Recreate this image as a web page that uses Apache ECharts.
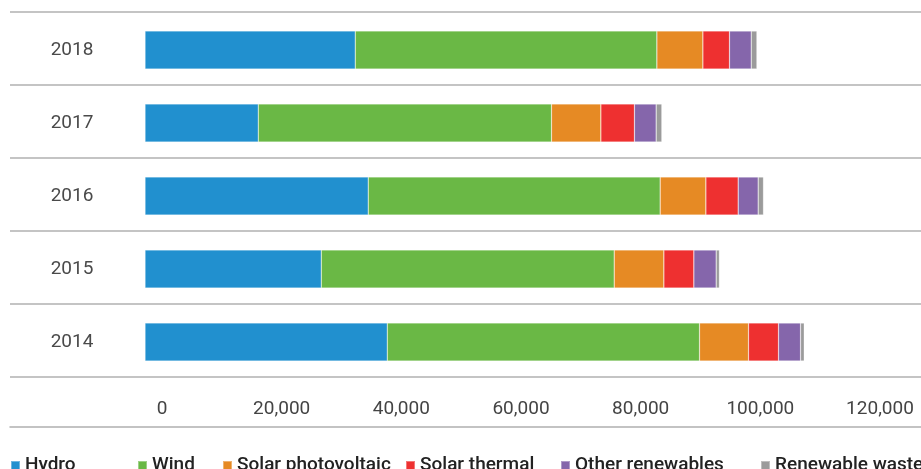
<!DOCTYPE html>
<html>
<head>
<meta charset="UTF-8">
<title>Renewables</title>
<script src="https://cdn.jsdelivr.net/npm/echarts@6/dist/echarts.min.js"></script>
<style>
  html, body { margin: 0; padding: 0; background: #fff; }
  #chart { width: 921px; height: 469px; }
</style>
</head>
<body>
<div id="chart"></div>
<script type="text/javascript">
// data (bottom category first)
var years = ['2014', '2015', '2016', '2017', '2018'];
var hydro = [40490, 29460, 37310, 18930, 35140];
var wind = [52190, 48960, 48790, 49010, 50410];
var solarPv = [8190, 8300, 7640, 8250, 7690];
var solarThermal = [5010, 5010, 5400, 5610, 4450];
var otherRenew = [3680, 3730, 3340, 3630, 3630];
var renewWaste = [620, 550, 890, 950, 950];
var xTicks = [0, 20000, 40000, 60000, 80000, 100000, 120000];

var seriesNames = ['Hydro', 'Wind', 'Solar photovoltaic', 'Solar thermal', 'Other renewables', 'Renewable waste'];
var seriesData = [hydro, wind, solarPv, solarThermal, otherRenew, renewWaste];
var colors = ['#2190cf', '#6ab845', '#e68a24', '#ee3030', '#8566ab', '#9b9b9b'];
var legendLeft = [10, 137, 222, 405, 560, 760];

var font = 'Roboto, "DejaVu Sans", sans-serif';

var chart = echarts.init(document.getElementById('chart'));

var series = [];
var legends = [];
for (var i = 0; i < seriesNames.length; i++) {
	series.push({
		name : seriesNames[i],
		type : 'bar',
		stack : 'total',
		barWidth : 38,
		xAxisIndex : 0,
		yAxisIndex : 0,
		itemStyle : {
			color : colors[i],
			borderColor : 'rgba(255,255,255,0.35)',
			borderWidth : 0.6
		},
		data : seriesData[i]
	});
	legends.push({
		data : [ seriesNames[i] ],
		left : legendLeft[i],
		top : 456,
		itemWidth : 9,
		itemHeight : 9,
		itemGap : 6,
		padding : 0,
		icon : 'rect',
		textStyle : {
			fontFamily : font,
			fontSize : 19,
			fontWeight : 500,
			color : '#222'
		}
	});
}

chart.setOption({
	animation : false,
	color : colors,
	legend : legends,
	grid : [ {
		left : 145,
		right : 58,
		top : 13.5,
		bottom : 90.5
	}, {
		left : 10,
		right : 0,
		top : 12,
		bottom : 92
	} ],
	xAxis : [ {
		type : 'value',
		gridIndex : 0,
		min : xTicks[0],
		max : xTicks[xTicks.length - 1],
		interval : xTicks[1] - xTicks[0],
		axisLine : { show : false },
		axisTick : { show : false },
		splitLine : { show : false },
		axisLabel : {
			margin : 21,
			padding : [ 0, 0, 0, 34 ],
			fontFamily : font,
			fontSize : 19,
			color : '#444',
			formatter : function(v) {
				return v.toLocaleString('en-US');
			}
		}
	}, {
		type : 'value',
		gridIndex : 1,
		offset : 50,
		axisLine : { show : true, lineStyle : { color : '#b0b0b0', width : 1.5 } },
		axisTick : { show : false },
		axisLabel : { show : false },
		splitLine : { show : false }
	} ],
	yAxis : [ {
		type : 'category',
		gridIndex : 0,
		data : years,
		axisLine : { show : false },
		axisTick : { show : false },
		splitLine : { show : false },
		axisLabel : {
			margin : 73,
			align : 'center',
			fontFamily : font,
			fontSize : 19,
			color : '#4a4a4a'
		}
	}, {
		type : 'category',
		gridIndex : 1,
		data : years,
		axisLine : { show : false },
		axisTick : { show : false },
		axisLabel : { show : false },
		splitLine : { show : true, lineStyle : { color : '#b0b0b0', width : 1.5 } }
	} ],
	series : series
});
</script>
</body>
</html>
